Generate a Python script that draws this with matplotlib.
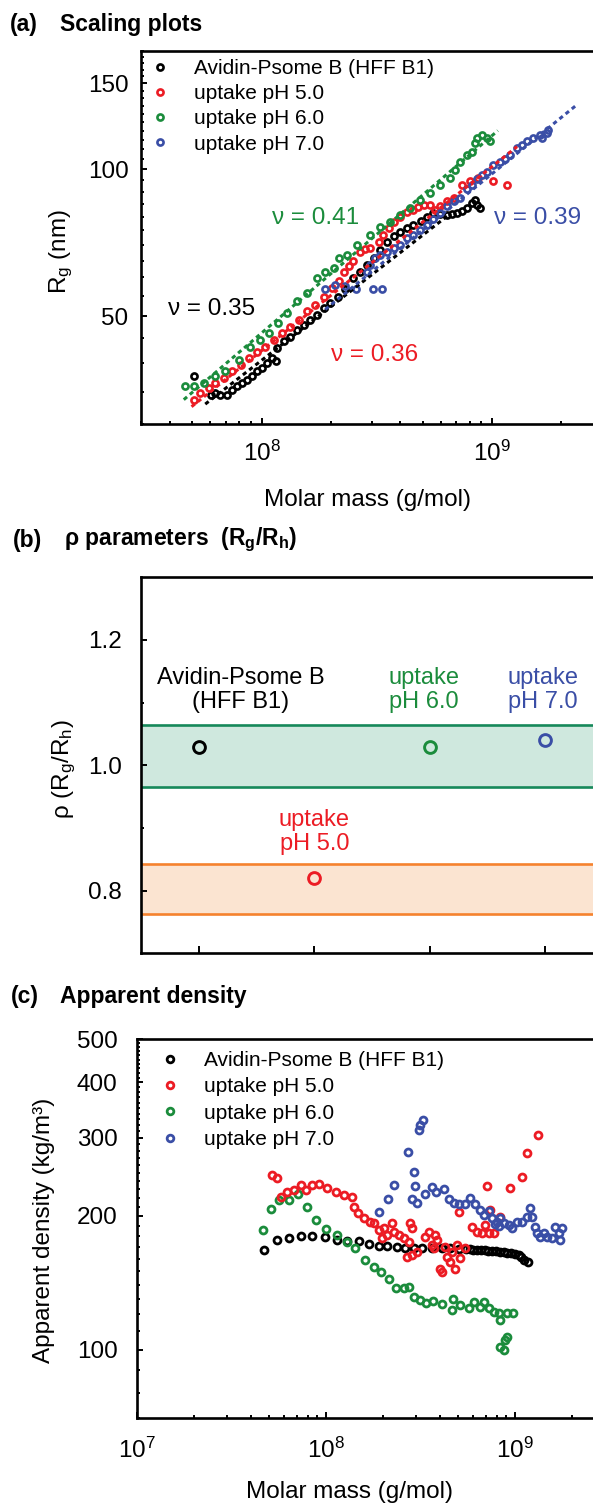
import numpy as np
import matplotlib.pyplot as plt
from matplotlib.ticker import LogLocator, FixedLocator, NullFormatter

plt.rcParams['font.family'] = ['Liberation Sans', 'DejaVu Sans']
plt.rcParams['mathtext.fontset'] = 'custom'
plt.rcParams['mathtext.rm'] = 'Liberation Sans'
plt.rcParams['mathtext.it'] = 'Liberation Sans:italic'
plt.rcParams['mathtext.bf'] = 'Liberation Sans:bold'

# colours
BLACK = '#000000'
RED = '#ec1c24'
GREEN = '#1b8c3c'
BLUE = '#3a4ea6'

series_labels = ['Avidin-Psome B (HFF B1)', 'uptake pH 5.0', 'uptake pH 6.0', 'uptake pH 7.0']
series_colors = [BLACK, RED, GREEN, BLUE]

# ---- (a) scaling plots: log10(M) and Rg (nm)
a_black_logm = [7.706, 7.779, 7.800, 7.822, 7.851, 7.873, 7.894, 7.916, 7.938, 7.959, 7.981, 8.003,
                8.024, 8.046, 8.063, 8.068, 8.096, 8.125, 8.154, 8.183, 8.212, 8.241, 8.270, 8.299,
                8.333, 8.364, 8.399, 8.428, 8.457, 8.486, 8.515, 8.544, 8.573, 8.602, 8.630, 8.659,
                8.690, 8.718, 8.746, 8.775, 8.804, 8.826, 8.848, 8.870, 8.891, 8.912, 8.927, 8.934, 8.948]
a_black_rg = [37.6, 34.5, 34.8, 34.5, 34.5, 35.3, 35.9, 36.4, 37.0, 37.6, 38.5, 39.1,
              40.0, 41.0, 40.5, 43.0, 44.4, 45.4, 46.9, 48.0, 49.1, 50.3, 51.9, 53.1,
              54.8, 56.7, 59.8, 61.7, 63.6, 65.7, 68.4, 71.1, 72.8, 74.5, 75.7, 76.9,
              78.5, 80.0, 81.3, 81.0, 80.6, 81.0, 81.3, 82.0, 83.2, 85.2, 86.6, 84.5, 83.2]

a_red_logm = [7.706, 7.735, 7.771, 7.800, 7.836, 7.873, 7.909, 7.945, 7.981, 8.017, 8.053, 8.089,
              8.125, 8.161, 8.198, 8.234, 8.270, 8.306, 8.334, 8.356, 8.378, 8.399, 8.429, 8.450,
              8.472, 8.508, 8.529, 8.551, 8.573, 8.602, 8.631, 8.659, 8.681, 8.703, 8.732, 8.753,
              8.775, 8.804, 8.833, 8.869, 8.905, 8.941, 9.006, 9.064]
a_red_rg = [33.7, 34.8, 35.6, 36.4, 37.3, 38.5, 39.7, 41.0, 42.3, 43.3, 44.7, 46.1,
            47.6, 49.1, 51.1, 52.7, 54.8, 57.0, 58.9, 61.7, 63.2, 64.7, 67.8, 68.5,
            68.9, 71.1, 73.4, 75.7, 78.1, 80.0, 81.9, 82.6, 83.8, 84.5, 84.5, 82.6,
            84.0, 85.9, 87.2, 92.9, 94.4, 95.8, 94.4, 92.9]

a_green_logm = [7.670, 7.706, 7.750, 7.800, 7.843, 7.901, 7.952, 7.995, 8.031, 8.070, 8.111, 8.154,
                8.198, 8.241, 8.277, 8.313, 8.335, 8.371, 8.414, 8.472, 8.515, 8.558, 8.602, 8.645,
                8.688, 8.732, 8.775, 8.818, 8.840, 8.862, 8.891, 8.912, 8.927, 8.934, 8.956, 8.977, 8.992]
a_green_rg = [36.0, 36.0, 36.4, 37.6, 38.5, 40.7, 43.3, 44.7, 46.1, 48.5, 50.7, 53.6,
              55.7, 59.8, 61.7, 62.7, 65.7, 66.8, 70.0, 73.4, 76.3, 78.1, 80.6, 83.2,
              86.6, 89.3, 92.9, 95.8, 99.5, 103.7, 107.0, 108.7, 113.1, 115.7, 117.6, 115.7, 114.0]

a_blue_logm = [8.277, 8.320, 8.364, 8.411, 8.485, 8.524, 8.457, 8.472, 8.493, 8.515, 8.544, 8.573,
               8.602, 8.631, 8.659, 8.688, 8.718, 8.746, 8.775, 8.804, 8.833, 8.862, 8.891, 8.912,
               8.934, 8.955, 8.977, 9.006, 9.035, 9.057, 9.078, 9.107, 9.130, 9.151, 9.179, 9.208,
               9.216, 9.237, 9.244]
a_blue_rg = [56.9, 57.8, 57.5, 56.9, 56.7, 56.7, 61.7, 63.7, 65.7, 66.8, 67.8, 68.9,
             70.0, 72.2, 73.4, 75.1, 76.9, 78.9, 81.2, 83.9, 85.9, 87.5, 90.9, 93.0,
             95.7, 97.5, 98.9, 102.1, 103.7, 105.0, 107.0, 110.4, 112.0, 114.0, 115.7, 117.6,
             115.7, 118.5, 120.4]

# power-law fit lines (start/end of each dotted line)
fit_m_start = [5.7e7, 4.97e7, 4.6e7, 1.89e8]
fit_m_end = [6.6e8, 1.285e9, 1.06e9, 2.34e9]
fit_rg_start = [33.0, 32.6, 33.7, 51.6]
fit_rg_end = [81.1, 111.3, 120.0, 135.7]
nu_text = ['ν = 0.35', 'ν = 0.36', 'ν = 0.41', 'ν = 0.39']
nu_m = [6.1e7, 3.1e8, 1.71e8, 1.58e9]
nu_rg = [51.6, 41.7, 79.3, 79.3]

# ---- (b) rho parameters
b_pos = [1, 2, 3, 4]
b_rho = [1.029, 0.82, 1.029, 1.04]
b_text = ['Avidin-Psome B\n(HFF B1)', 'uptake\npH 5.0', 'uptake\npH 6.0', 'uptake\npH 7.0']
b_text_x = [1.36, 2.0, 2.95, 3.98]
b_text_y = [1.12, 0.894, 1.12, 1.12]
band_green = (0.966, 1.064)
band_orange = (0.762, 0.842)

# ---- (c) apparent density (kg/m3)
c_black_logm = [7.672, 7.743, 7.804, 7.866, 7.928, 7.993, 8.056, 8.113, 8.174, 8.227, 8.280, 8.324,
                8.377, 8.421, 8.465, 8.509, 8.562, 8.615, 8.659, 8.702, 8.740, 8.760, 8.780, 8.800,
                8.820, 8.840, 8.860, 8.880, 8.900, 8.920, 8.940, 8.960, 8.980, 9.000, 9.020, 9.035,
                9.050, 9.070]
c_black_rho = [167.6, 176.6, 178.1, 180.3, 180.3, 179.0, 176.6, 175.7, 175.7, 172.7, 171.4, 170.9,
               170.5, 169.1, 169.6, 169.6, 169.6, 169.1, 169.1, 168.5, 168.3, 168.2, 168.0, 167.8,
               167.5, 167.3, 167.0, 166.8, 166.5, 166.2, 165.8, 165.3, 164.8, 164.0, 163.0, 161.5,
               159.0, 157.7]

c_red_logm = [7.716, 7.743, 7.760, 7.795, 7.829, 7.866, 7.893, 7.928, 7.961, 8.007, 8.051, 8.095,
              8.139, 8.147, 8.172, 8.204, 8.231, 8.257, 8.281, 8.306, 8.324, 8.298, 8.350, 8.359,
              8.385, 8.412, 8.438, 8.430, 8.456, 8.483, 8.447, 8.456, 8.526, 8.544, 8.562, 8.579,
              8.588, 8.570, 8.606, 8.615, 8.632, 8.641, 8.659, 8.668, 8.685, 8.694, 8.702, 8.711,
              8.738, 8.773, 8.800, 8.826, 8.844, 8.861, 8.887, 8.853, 8.870, 8.923, 8.976, 9.038,
              9.064, 9.125]
c_red_rho = [247.5, 243.3, 221.2, 226.9, 228.9, 234.4, 228.9, 234.4, 235.6, 231.3, 226.9, 223.1,
             220.8, 209.6, 203.2, 198.0, 193.9, 193.2, 186.0, 187.6, 181.2, 178.1, 192.6, 184.4,
             181.2, 178.1, 175.0, 161.9, 163.3, 166.1, 192.6, 187.6, 179.6, 184.0, 172.0, 181.2,
             176.6, 169.1, 151.6, 149.7, 170.5, 161.9, 157.7, 166.1, 151.6, 172.0, 204.6, 160.5,
             169.1, 189.2, 184.4, 182.8, 190.9, 182.8, 182.8, 233.2, 206.4, 199.3, 231.0, 244.6,
             277.1, 304.8]

c_green_logm = [7.665, 7.707, 7.751, 7.804, 7.850, 7.901, 7.945, 8.003, 8.056, 8.112, 8.156, 8.209,
                8.253, 8.289, 8.332, 8.373, 8.412, 8.438, 8.468, 8.500, 8.532, 8.567, 8.615, 8.668,
                8.673, 8.711, 8.755, 8.782, 8.817, 8.835, 8.861, 8.887, 8.914, 8.920, 8.960, 8.990,
                8.920, 8.940, 8.949, 8.960]
c_green_rho = [186.0, 207.5, 216.8, 216.8, 223.7, 209.3, 196.2, 186.9, 181.2, 174.3, 169.4, 159.1,
               153.2, 149.7, 144.1, 137.3, 137.3, 138.0, 131.1, 129.2, 127.4, 128.8, 126.6, 122.7,
               129.7, 125.9, 123.8, 128.1, 124.8, 128.1, 123.8, 121.6, 120.6, 116.5, 120.6, 120.6,
               101.4, 99.6, 105.0, 106.8]

c_blue_logm = [8.283, 8.326, 8.360, 8.434, 8.465, 8.474, 8.456, 8.483, 8.491, 8.500, 8.514, 8.526,
               8.562, 8.585, 8.623, 8.650, 8.676, 8.706, 8.738, 8.764, 8.791, 8.817, 8.835, 8.861,
               8.879, 8.896, 8.905, 8.917, 8.923, 8.940, 8.967, 8.985, 9.011, 9.038, 9.064, 9.081,
               9.090, 9.108, 9.117, 9.134, 9.152, 9.170, 9.196, 9.214, 9.231, 9.240, 9.249]
c_blue_rho = [204.2, 217.9, 234.4, 279.0, 250.6, 233.8, 218.2, 213.7, 312.8, 321.1, 328.4, 224.3,
              232.2, 226.9, 229.8, 217.9, 213.7, 212.3, 212.9, 219.3, 212.9, 206.4, 201.1, 205.3,
              197.6, 191.9, 194.2, 189.9, 197.6, 192.6, 190.9, 187.6, 194.2, 194.2, 199.3, 208.2,
              199.3, 189.2, 182.8, 179.6, 182.8, 179.6, 178.1, 189.2, 182.8, 176.6, 187.6]


def style_axes(ax, ypad, xpad=11):
    for s in ax.spines.values():
        s.set_linewidth(1.9)
    ax.tick_params(which='both', direction='in', width=1.4, labelsize=17.5)
    ax.tick_params(which='major', length=4.5)
    ax.tick_params(which='minor', length=2.5)
    ax.tick_params(axis='y', pad=ypad)
    ax.tick_params(axis='x', pad=xpad)


def circles(ax, m, y, color, ms=4.5, mew=1.9, label=None):
    ax.plot(m, y, 'o', ls='none', ms=ms, mew=mew, mfc='none', mec=color, label=label)


W, H = 593, 1504
fig = plt.figure(figsize=(W / 100, H / 100), dpi=100)

# ---------------- (a)
ax = fig.add_axes([141 / W, 1 - 424.3 / H, 461 / W, 373.6 / H])
ax.set_xscale('log')
ax.set_yscale('log')
for i in range(4):
    ax.plot([fit_m_start[i], fit_m_end[i]], [fit_rg_start[i], fit_rg_end[i]],
            ls=(0, (1.4, 1.2)), lw=2.2, color=series_colors[i], zorder=3)
a_sets = [(a_black_logm, a_black_rg), (a_red_logm, a_red_rg),
          (a_green_logm, a_green_rg), (a_blue_logm, a_blue_rg)]
for (lm, rg), c, lab in zip(a_sets, series_colors, series_labels):
    circles(ax, 10 ** np.array(lm), rg, c, ms=4.4, mew=1.9, label=lab)
for t, m, r, c in zip(nu_text, nu_m, nu_rg, series_colors):
    ax.text(m, r, t, color=c, fontsize=17.5, ha='center', va='center')
ax.set_xlim(3e7, 3e9)
ax.set_ylim(30, 175)
ax.xaxis.set_major_locator(LogLocator(base=10))
ax.xaxis.set_minor_locator(LogLocator(base=10, subs=np.arange(2, 10)))
ax.xaxis.set_minor_formatter(NullFormatter())
ax.yaxis.set_major_locator(FixedLocator([50, 100, 150]))
ax.yaxis.set_minor_locator(FixedLocator(np.arange(30, 176, 5)))
ax.yaxis.set_major_formatter(plt.FormatStrFormatter('%d'))
ax.yaxis.set_minor_formatter(NullFormatter())
style_axes(ax, 9, 12)
ax.set_xlabel('Molar mass (g/mol)', fontsize=17.5)
ax.xaxis.set_label_coords(0.4924, -0.2026)
ax.xaxis.label.set_va('center')
ax.set_ylabel('R$_\\mathregular{g}$ (nm)', fontsize=17.5)
ax.yaxis.set_label_coords(-0.1735, 0.461)
ax.yaxis.label.set_va('center')
ax.legend(loc='upper left', bbox_to_anchor=(0.0195, 0.978), frameon=False, fontsize=15,
          borderpad=0, borderaxespad=0, handlelength=1.0, handletextpad=1.1,
          labelspacing=0.3, numpoints=1)

# ---------------- (b)
ax = fig.add_axes([141 / W, 1 - 953.3 / H, 462 / W, 376 / H])
ax.axhspan(band_green[0], band_green[1], color='#cfe8de', lw=0, zorder=0)
ax.axhspan(band_orange[0], band_orange[1], color='#fbe4d1', lw=0, zorder=0)
for yv in band_green:
    ax.axhline(yv, color='#16885a', lw=1.9, zorder=1)
for yv in band_orange:
    ax.axhline(yv, color='#f5822e', lw=1.9, zorder=1)
for p, r, c in zip(b_pos, b_rho, series_colors):
    circles(ax, [p], [r], c, ms=8.5, mew=2.1)
for t, x, y, c in zip(b_text, b_text_x, b_text_y, series_colors):
    ax.text(x, y, t, color=c, fontsize=17, ha='center', va='center', linespacing=1.1)
ax.set_xlim(0.5, 4.5)
ax.set_ylim(0.7, 1.3)
ax.xaxis.set_major_locator(FixedLocator(b_pos))
ax.xaxis.set_major_formatter(NullFormatter())
ax.yaxis.set_major_locator(FixedLocator([0.8, 1.0, 1.2]))
ax.yaxis.set_minor_locator(FixedLocator([0.9, 1.1]))
ax.yaxis.set_major_formatter(plt.FormatStrFormatter('%.1f'))
style_axes(ax, 14)
ax.tick_params(axis='x', which='major', length=5)
ax.set_ylabel('ρ (R$_\\mathregular{g}$/R$_\\mathregular{h}$)', fontsize=17.5)
ax.yaxis.set_label_coords(-0.1667, 0.49)
ax.yaxis.label.set_va('center')

# ---------------- (c)
ax = fig.add_axes([137 / W, 1 - 1418.3 / H, 468 / W, 379 / H])
ax.set_xscale('log')
ax.set_yscale('log')
c_sets = [(c_black_logm, c_black_rho), (c_green_logm, c_green_rho),
          (c_red_logm, c_red_rho), (c_blue_logm, c_blue_rho)]
c_cols = [BLACK, GREEN, RED, BLUE]
for (lm, rho), c in zip(c_sets, c_cols):
    circles(ax, 10 ** np.array(lm), rho, c, ms=5.0, mew=2.0)
handles = [plt.Line2D([], [], marker='o', ls='none', ms=4.8, mew=2.0, mfc='none', mec=c)
           for c in series_colors]
ax.legend(handles, series_labels, loc='upper left', bbox_to_anchor=(0.048, 0.969), frameon=False,
          fontsize=15, borderpad=0, borderaxespad=0, handlelength=1.0, handletextpad=1.15,
          labelspacing=0.35, numpoints=1)
ax.set_xlim(1e7, 3e9)
ax.set_ylim(70, 500)
ax.xaxis.set_major_locator(LogLocator(base=10))
ax.xaxis.set_minor_locator(LogLocator(base=10, subs=np.arange(2, 10)))
ax.xaxis.set_minor_formatter(NullFormatter())
ax.yaxis.set_major_locator(FixedLocator([100, 200, 300, 400, 500]))
ax.yaxis.set_minor_locator(FixedLocator(np.arange(70, 500, 10)))
ax.yaxis.set_major_formatter(plt.FormatStrFormatter('%d'))
ax.yaxis.set_minor_formatter(NullFormatter())
style_axes(ax, 14, 14)
ax.set_xlabel('Molar mass (g/mol)', fontsize=17.5)
ax.xaxis.set_label_coords(0.455, -0.1945)
ax.xaxis.label.set_va('center')
ax.set_ylabel('Apparent density (kg/m³)', fontsize=17.5)
ax.yaxis.set_label_coords(-0.1987, 0.497)
ax.yaxis.label.set_va('center')

# panel titles
fig.text(9.5 / W, 1 - 24 / H, '(a)', fontsize=16.5, fontweight='bold', va='center')
fig.text(60.5 / W, 1 - 24 / H, 'Scaling plots', fontsize=16.5, fontweight='bold', va='center')
fig.text(13 / W, 1 - 540 / H, '(b)', fontsize=16.5, fontweight='bold', va='center')
fig.text(64 / W, 1 - 540 / H, 'ρ parameters  (R$_\\mathregular{g}$/R$_\\mathregular{h}$)',
         fontsize=16.5, fontweight='bold', va='center')
fig.text(11 / W, 1 - 997 / H, '(c)', fontsize=16.5, fontweight='bold', va='center')
fig.text(60.5 / W, 1 - 997 / H, 'Apparent density', fontsize=16.5, fontweight='bold', va='center')

fig.savefig('out.png', dpi=100)
